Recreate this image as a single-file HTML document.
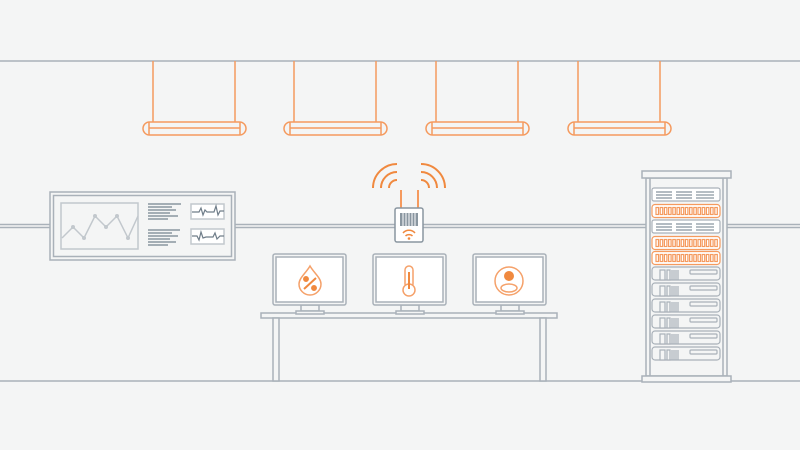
<!DOCTYPE html>
<html><head><meta charset="utf-8"><style>html,body{margin:0;padding:0;background:#f4f5f5}svg{display:block}</style></head>
<body>
<svg width="800" height="450" viewBox="0 0 800 450" xmlns="http://www.w3.org/2000/svg">
<rect width="800" height="450" fill="#f4f5f5"/>
<g stroke="#a9b1b9" fill="none" stroke-width="1.5">
<line x1="0" y1="61" x2="800" y2="61"/>
<line x1="0" y1="224.5" x2="800" y2="224.5"/>
<line x1="0" y1="227.5" x2="800" y2="227.5"/>
<line x1="0" y1="381" x2="800" y2="381"/>
</g>
<!-- lamps -->
<g stroke="#f59a5e" fill="none" stroke-width="1.5">
<g id="l1">
<line x1="153" y1="61" x2="153" y2="122"/><line x1="235" y1="61" x2="235" y2="122"/>
<rect x="143" y="122" width="103" height="13" rx="6.5" fill="#f4f5f5"/>
<line x1="149" y1="128" x2="240" y2="128"/><line x1="149" y1="122" x2="149" y2="135"/><line x1="240" y1="122" x2="240" y2="135"/>
</g>
<use href="#l1" x="141"/><use href="#l1" x="283"/><use href="#l1" x="425"/>
</g>
<!-- panel -->
<g stroke="#a9b1b9" fill="#f4f5f5" stroke-width="1.5">
<rect x="50" y="192" width="185" height="68"/>
<rect x="53.5" y="195.5" width="178" height="61"/>
<rect x="61" y="203" width="77" height="46" stroke="#c2c8cd"/>
<rect x="191" y="204" width="33" height="15" stroke="#c2c8cd" fill="#fff"/>
<rect x="191" y="229" width="33" height="15" stroke="#c2c8cd" fill="#fff"/>
</g>
<polyline points="62,238 73,227 84,238 95,216 106,227 117,216 128,238 138,216" fill="none" stroke="#c2c8cd" stroke-width="1.5"/>
<g fill="#c2c8cd"><circle cx="73" cy="227" r="2"/><circle cx="84" cy="238" r="2"/><circle cx="95" cy="216" r="2"/><circle cx="106" cy="227" r="2"/><circle cx="117" cy="216" r="2"/><circle cx="128" cy="238" r="2"/></g>
<g stroke="#8a96a0" stroke-width="1.5">
<line x1="148" y1="204" x2="181" y2="204"/><line x1="148" y1="207" x2="172" y2="207"/><line x1="148" y1="210" x2="176" y2="210"/><line x1="148" y1="213" x2="170" y2="213"/><line x1="148" y1="216" x2="178" y2="216"/><line x1="148" y1="219" x2="168" y2="219"/>
<line x1="148" y1="230" x2="180" y2="230"/><line x1="148" y1="233" x2="172" y2="233"/><line x1="148" y1="236" x2="178" y2="236"/><line x1="148" y1="239" x2="170" y2="239"/><line x1="148" y1="242" x2="176" y2="242"/><line x1="148" y1="245" x2="168" y2="245"/>
</g>
<g fill="none" stroke="#6f7d89" stroke-width="1.2">
<polyline points="192,212 199,212 201,208 203,215 205,210 207,212 214,212 216,206 218,215 220,211 224,211"/>
<polyline points="192,236 197,236 199,240 201,232 203,238 206,237 213,237 215,233 217,239 220,236 224,236"/>
</g>
<!-- router -->
<g stroke="#f59a5e" stroke-width="2" fill="none">
<line x1="401" y1="190" x2="401" y2="209"/><line x1="418" y1="190" x2="418" y2="209"/>
</g>
<g stroke="#f0893f" stroke-width="2" fill="none">
<path d="M389,188 A8,8 0 0 1 397,180"/><path d="M381,188 A16,16 0 0 1 397,172"/><path d="M373,188 A24,24 0 0 1 397,164"/>
<path d="M429,188 A8,8 0 0 0 421,180"/><path d="M437,188 A16,16 0 0 0 421,172"/><path d="M445,188 A24,24 0 0 0 421,164"/>
</g>
<rect x="395" y="208" width="28" height="34" rx="2" fill="#fff" stroke="#8a96a0" stroke-width="1.5"/>
<rect x="400" y="213" width="18" height="13" fill="#8a96a0"/>
<g stroke="#fff" stroke-width="1"><line x1="403" y1="213" x2="403" y2="226"/><line x1="406" y1="213" x2="406" y2="226"/><line x1="409" y1="213" x2="409" y2="226"/><line x1="412" y1="213" x2="412" y2="226"/><line x1="415" y1="213" x2="415" y2="226"/></g>
<g stroke="#f0893f" stroke-width="1.5" fill="none"><path d="M403,233 A8,8 0 0 1 415,233"/><path d="M405.5,236 A5,5 0 0 1 412.5,236"/></g>
<circle cx="409" cy="238.5" r="1.3" fill="#f0893f"/>
<!-- desk -->
<g stroke="#a9b1b9" stroke-width="1.5" fill="#f4f5f5">
<rect x="261" y="313" width="296" height="5"/>
<rect x="273" y="318" width="6" height="63"/>
<rect x="540" y="318" width="6" height="63"/>
</g>
<!-- monitors -->
<g id="m1" stroke="#a9b1b9" stroke-width="1.5" fill="#fff">
<rect x="301" y="305" width="18" height="6" fill="#f4f5f5"/>
<rect x="296" y="311" width="28" height="3" fill="#f4f5f5"/>
<rect x="273" y="254" width="73" height="51" rx="2" fill="#f4f5f5"/>
<rect x="276" y="257" width="67" height="45" fill="#fff"/>
</g>
<use href="#m1" x="100"/><use href="#m1" x="200"/>
<!-- icons -->
<g stroke="#f0893f" stroke-width="1.5" fill="none">
<path d="M310,266 C306,273 299,278 299,284 A11,11 0 0 0 321,284 C321,278 314,273 310,266 Z" stroke="#f5a16a"/>
<circle cx="306" cy="279" r="2.2" fill="#f0893f"/><circle cx="314" cy="288" r="2.2" fill="#f0893f"/>
<line x1="304" y1="289" x2="316" y2="278" stroke-width="2"/>
<rect x="405" y="266" width="8" height="22" rx="4" stroke="#f5a16a"/>
<circle cx="409" cy="290" r="6" stroke="#f5a16a" fill="#fff"/>
<line x1="409" y1="272" x2="409" y2="289" stroke-width="2"/>
<circle cx="509" cy="281" r="14" stroke="#f5a16a"/>
<circle cx="509" cy="276" r="5" fill="#f0893f" stroke="none"/>
<ellipse cx="509" cy="288" rx="8" ry="4" stroke="#f5a16a"/>
</g>
<!-- rack -->
<g stroke="#a9b1b9" stroke-width="1.5" fill="#f4f5f5">
<rect x="646" y="178" width="81" height="198"/>
<rect x="642" y="171" width="89" height="7"/>
<rect x="642" y="376" width="89" height="6"/>
<line x1="650" y1="178" x2="650" y2="376"/>
<line x1="723" y1="178" x2="723" y2="376"/>
</g>
<g id="gu" stroke="#a9b1b9" stroke-width="1.2" fill="#fff">
<rect x="652" y="188" width="68" height="13" rx="2"/>
<g stroke="#8a96a0" stroke-width="1.3"><line x1="656" y1="192" x2="672" y2="192"/><line x1="656" y1="195" x2="672" y2="195"/><line x1="656" y1="198" x2="672" y2="198"/><line x1="676" y1="192" x2="692" y2="192"/><line x1="676" y1="195" x2="692" y2="195"/><line x1="676" y1="198" x2="692" y2="198"/><line x1="696" y1="192" x2="714" y2="192"/><line x1="696" y1="195" x2="714" y2="195"/><line x1="696" y1="198" x2="714" y2="198"/></g>
</g>
<use href="#gu" y="32"/>
<g id="ou" stroke="#f59a5e" stroke-width="1.2" fill="#fff">
<rect x="652" y="204.5" width="68" height="13" rx="3"/>
<g fill="none"><rect x="656" y="207.5" width="2.5" height="7"/><rect x="660.2" y="207.5" width="2.5" height="7"/><rect x="664.4" y="207.5" width="2.5" height="7"/><rect x="668.6" y="207.5" width="2.5" height="7"/><rect x="672.8" y="207.5" width="2.5" height="7"/><rect x="677" y="207.5" width="2.5" height="7"/><rect x="681.2" y="207.5" width="2.5" height="7"/><rect x="685.4" y="207.5" width="2.5" height="7"/><rect x="689.6" y="207.5" width="2.5" height="7"/><rect x="693.8" y="207.5" width="2.5" height="7"/><rect x="698" y="207.5" width="2.5" height="7"/><rect x="702.2" y="207.5" width="2.5" height="7"/><rect x="706.4" y="207.5" width="2.5" height="7"/><rect x="710.6" y="207.5" width="2.5" height="7"/><rect x="714.8" y="207.5" width="2.5" height="7"/></g>
</g>
<use href="#ou" y="32"/><use href="#ou" y="47"/>
<g id="su" stroke="#a9b1b9" stroke-width="1.2" fill="#f4f5f5">
<rect x="652" y="267" width="68" height="13" rx="3"/>
<rect x="660" y="270" width="5" height="10"/>
<rect x="667" y="270" width="3" height="10"/>
<g stroke="#a9b1b9"><line x1="672" y1="270" x2="672" y2="280"/><line x1="674" y1="270" x2="674" y2="280"/><line x1="676" y1="270" x2="676" y2="280"/><line x1="678" y1="270" x2="678" y2="280"/></g>
<rect x="690" y="270" width="27" height="4" rx="1"/>
</g>
<use href="#su" y="16"/><use href="#su" y="32"/><use href="#su" y="48"/><use href="#su" y="64"/><use href="#su" y="80"/>
</svg>
</body></html>
